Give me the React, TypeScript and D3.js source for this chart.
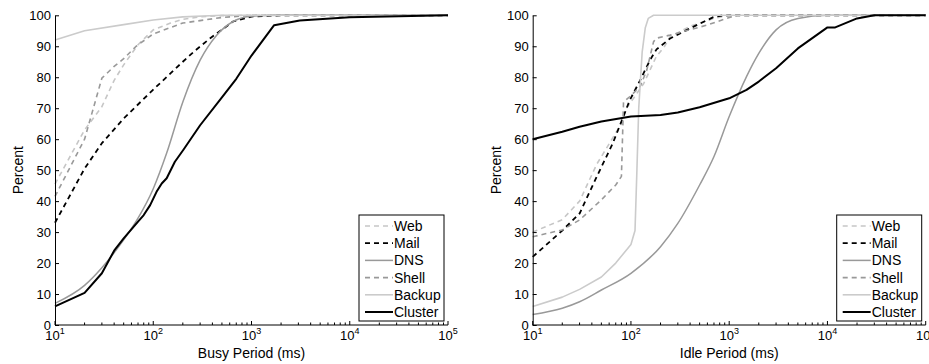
import React, { useEffect, useRef } from 'react'
import * as d3 from 'd3'

// series names, drawing order = legend order
const seriesNames = ['Web', 'Mail', 'DNS', 'Shell', 'Backup', 'Cluster']

// busy period CDFs: [ms, percent]
const busyWeb = [[10, 45.5], [20, 63], [30, 70.5], [40, 79], [50, 84], [70, 90.5], [100, 95.3], [150, 97.5], [200, 98.7], [300, 99.5], [500, 99.9], [1000, 100], [1e5, 100]]
const busyMail = [[10, 33], [20, 50.5], [30, 58.7], [50, 66.7], [100, 76], [200, 85], [260, 88.3], [380, 92.6], [650, 98], [1000, 99.6], [2000, 100], [1e5, 100]]
const busyDNS = [[10, 7], [20, 12.8], [30, 18.5], [50, 27.5], [70, 34.5], [100, 44], [137, 55.5], [200, 72], [300, 85.5], [440, 93.5], [650, 98], [1000, 99.7], [2000, 100], [1e5, 100]]
const busyShell = [[10, 41.5], [20, 60], [30, 79.7], [40, 83.5], [50, 86], [67, 90], [100, 94], [200, 97.5], [500, 99.3], [1000, 100], [1e5, 100]]
const busyBackup = [[10, 92], [20, 95], [50, 97], [100, 98.5], [200, 99.5], [500, 100], [1e5, 100]]
const busyCluster = [[10, 6], [20, 10.4], [30, 16.7], [40, 24], [50, 28], [70, 33.4], [80, 35.5], [93, 38.7], [108, 43], [122, 45.7], [137, 47.4], [166, 52.7], [202, 56.5], [300, 64.5], [500, 73.5], [700, 79.5], [1000, 87], [1700, 96.8], [3100, 98.3], [1e4, 99.4], [1e5, 100]]

// idle period CDFs: [ms, percent]
const idleWeb = [[10, 30], [20, 34], [30, 40], [45, 52], [60, 58.5], [80, 65], [90, 70], [100, 72], [135, 78], [180, 86.5], [220, 90], [250, 93], [400, 96.5], [700, 99], [1000, 100], [1e5, 100]]
const idleMail = [[10, 22], [20, 30.5], [30, 36], [45, 48], [65, 58.5], [83, 67], [97, 72.5], [124, 79], [156, 85.5], [182, 89], [250, 92.5], [400, 95.8], [690, 99.4], [870, 100], [1e5, 100]]
const idleDNS = [[10, 3.4], [20, 5.4], [30, 7.5], [50, 11.3], [100, 16.7], [200, 25.3], [300, 32.8], [500, 45.2], [700, 54.4], [1000, 67.3], [1500, 80.2], [2000, 87.7], [3000, 95.3], [5000, 99], [1e4, 100], [1e5, 100]]
const idleShell = [[10, 28.5], [20, 30.7], [30, 33.9], [50, 40.4], [70, 45.2], [80, 48], [84, 72], [97, 73.7], [124, 77], [145, 82.3], [170, 91.5], [182, 92.6], [250, 93.6], [590, 96.8], [940, 99], [1200, 100], [1e5, 100]]
const idleBackup = [[10, 6], [20, 9], [30, 11.5], [50, 15.5], [70, 20], [100, 26], [110, 30.5], [115, 50], [120, 70], [130, 88], [140, 96], [150, 99], [170, 100], [1e5, 100]]
const idleCluster = [[10, 60], [20, 62.4], [30, 64], [50, 65.7], [100, 67.3], [200, 67.8], [300, 68.6], [500, 70.3], [1000, 73.2], [1500, 75.9], [2000, 78.6], [3000, 82.9], [5000, 89.3], [1e4, 96.1], [1.2e4, 96.1], [2e4, 99], [3e4, 100], [1e5, 100]]

const yTicks = [0, 10, 20, 30, 40, 50, 60, 70, 80, 90, 100]
const xExponents = [1, 2, 3, 4, 5]

const styles = {
  Web: { color: '#c6c6c6', dash: '5,4', width: 1.6, smooth: false },
  Mail: { color: '#000', dash: '5,4', width: 1.8, smooth: false },
  DNS: { color: '#999', dash: null, width: 1.5, smooth: true },
  Shell: { color: '#999', dash: '5,4', width: 1.6, smooth: false },
  Backup: { color: '#cbcbcb', dash: null, width: 1.6, smooth: false },
  Cluster: { color: '#000', dash: null, width: 2, smooth: false }
}

const panels = [
  { left: 55, title: 'Busy Period (ms)', ylab: 22.5, data: [busyWeb, busyMail, busyDNS, busyShell, busyBackup, busyCluster] },
  { left: 532.7, title: 'Idle Period (ms)', ylab: 500.5, data: [idleWeb, idleMail, idleDNS, idleShell, idleBackup, idleCluster] }
]

const plotW = 393
const plotTop = 15.3
const plotBottom = 325
const font = '"Liberation Sans", Arial, Helvetica, sans-serif'

const App = () => {
  const svgRef = useRef<SVGSVGElement>(null)

  useEffect(() => {
    const svg = d3.select(svgRef.current)
    svg.selectAll('*').remove()

    panels.forEach(p => {
      const x = d3.scaleLog().domain([10, 1e5]).range([p.left, p.left + plotW])
      const y = d3.scaleLinear().domain([0, 100]).range([plotBottom, plotTop])
      const g = svg.append('g')

      // lines
      p.data.forEach((pts, i) => {
        const s = styles[seriesNames[i]]
        const line = d3.line<number[]>()
          .x(d => x(d[0])).y(d => y(d[1]))
          .curve(s.smooth ? d3.curveMonotoneX : d3.curveLinear)
        g.append('path')
          .attr('d', line(pts))
          .attr('fill', 'none')
          .attr('stroke', s.color)
          .attr('stroke-width', s.width)
          .attr('stroke-dasharray', s.dash)
          .attr('stroke-linejoin', 'round')
      })

      // y axis, ticks pointing inward
      const yAxis = g.append('g')
        .attr('transform', `translate(${p.left},0)`)
        .call(d3.axisLeft(y).tickValues(yTicks).tickSizeInner(-4).tickSizeOuter(0).tickPadding(4))
      yAxis.selectAll('text').attr('font-size', 13).attr('font-family', font).attr('fill', '#000')
      yAxis.select('.domain').attr('stroke', '#000')

      // x axis (log), custom for the minor ticks and 10^n labels
      const xg = g.append('g')
      xg.append('line')
        .attr('x1', p.left).attr('x2', p.left + plotW)
        .attr('y1', plotBottom).attr('y2', plotBottom)
        .attr('stroke', '#000')
      const minor = []
      xExponents.slice(0, -1).forEach(e => {
        for (let k = 2; k <= 9; k++) minor.push(k * Math.pow(10, e))
      })
      xg.selectAll('.minor').data(minor).join('line')
        .attr('class', 'minor')
        .attr('x1', d => x(d)).attr('x2', d => x(d))
        .attr('y1', plotBottom).attr('y2', plotBottom - 2.5)
        .attr('stroke', '#000')
      xg.selectAll('.major').data(xExponents).join('line')
        .attr('class', 'major')
        .attr('x1', d => x(Math.pow(10, d))).attr('x2', d => x(Math.pow(10, d)))
        .attr('y1', plotBottom).attr('y2', plotBottom - 4)
        .attr('stroke', '#000')
      const lbl = xg.selectAll('.xl').data(xExponents).join('text')
        .attr('class', 'xl')
        .attr('x', d => x(Math.pow(10, d)))
        .attr('y', 340)
        .attr('text-anchor', 'middle')
        .attr('font-family', font)
        .attr('font-size', 13)
      lbl.append('tspan').text('10')
      lbl.append('tspan').attr('dy', -6).attr('font-size', 9).text(d => d)

      // titles
      g.append('text')
        .attr('x', p.left + plotW / 2).attr('y', 358)
        .attr('text-anchor', 'middle')
        .attr('font-family', font).attr('font-size', 14)
        .text(p.title)
      g.append('text')
        .attr('transform', `translate(${p.ylab},${(plotTop + plotBottom) / 2}) rotate(-90)`)
        .attr('text-anchor', 'middle')
        .attr('font-family', font).attr('font-size', 14)
        .text('Percent')

      // legend
      const lx = p.left + 304
      const ly = 215
      const leg = g.append('g')
      leg.append('rect')
        .attr('x', lx).attr('y', ly).attr('width', 85).attr('height', 106)
        .attr('fill', '#fff').attr('stroke', '#000').attr('stroke-width', 1)
      seriesNames.forEach((name, i) => {
        const s = styles[name]
        const ry = ly + 11 + i * 17.2
        leg.append('line')
          .attr('x1', lx + 6).attr('x2', lx + 34)
          .attr('y1', ry).attr('y2', ry)
          .attr('stroke', s.color).attr('stroke-width', s.width)
          .attr('stroke-dasharray', s.dash)
        leg.append('text')
          .attr('x', lx + 35).attr('y', ry + 5)
          .attr('font-family', font).attr('font-size', 14)
          .text(name)
      })
    })
  }, [])

  return (
    <svg ref={svgRef} width={929} height={364}
      style={{ position: 'absolute', left: 0, top: 0, background: '#fff' }} />
  )
}

export default App
